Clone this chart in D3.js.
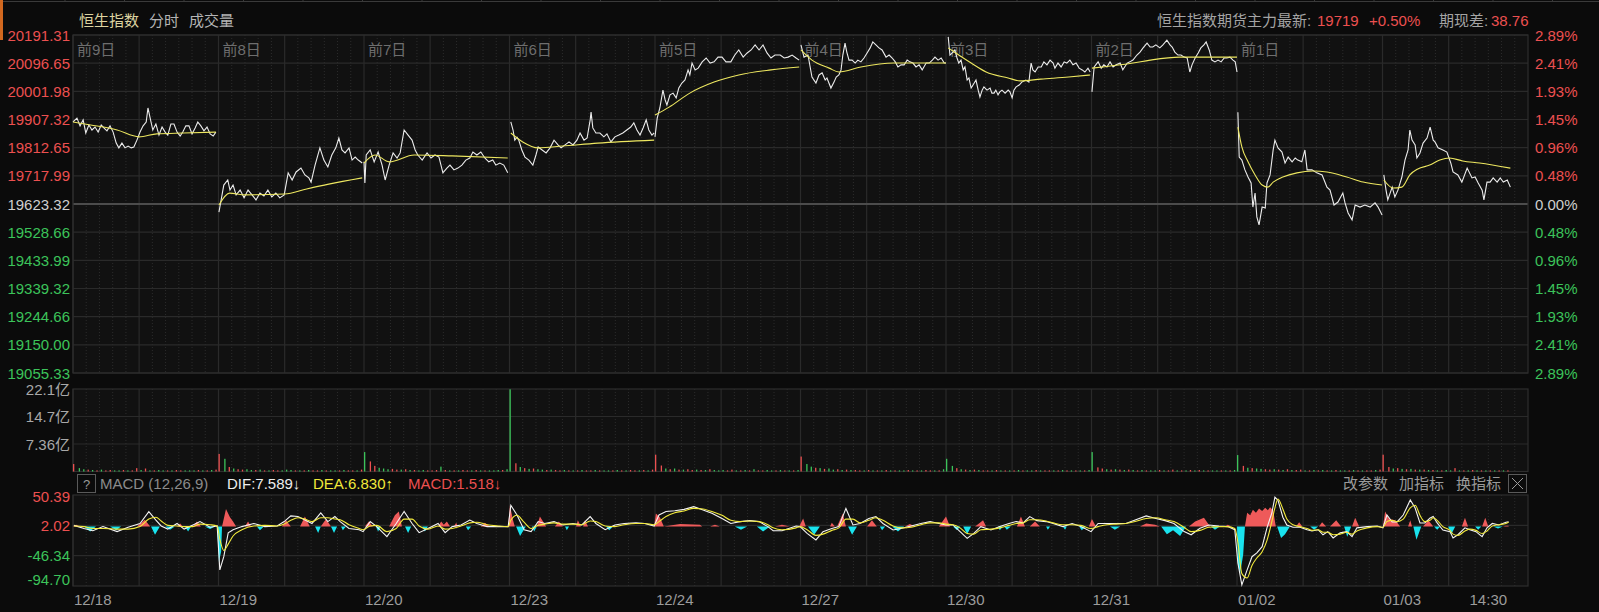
<!DOCTYPE html>
<html><head><meta charset="utf-8">
<script src="https://cdn.jsdelivr.net/npm/d3@7"></script>
<style>
html,body{margin:0;padding:0;background:#0b0b0b;overflow:hidden;}
svg{display:block;}
text{font-family:"Liberation Sans",Arial,"Noto Sans CJK SC",sans-serif;}
</style></head><body>
<svg id="c" width="1599" height="612"></svg>
<script>
// ---------------- DATA ----------------
const dates = ["12/18","12/19","12/20","12/23","12/24","12/27","12/30","12/31","01/02","01/03"];
const dayTags = ["前9日","前8日","前7日","前6日","前5日","前4日","前3日","前2日","前1日",""];
const lastTimeLabel = "14:30";
const prevClose = 19623.32;
const priceTicks = [20191.31,20096.65,20001.98,19907.32,19812.65,19717.99,19623.32,19528.66,19433.99,19339.32,19244.66,19150.00,19055.33];
const pctTicks = ["2.89%","2.41%","1.93%","1.45%","0.96%","0.48%","0.00%","0.48%","0.96%","1.45%","1.93%","2.41%","2.89%"];
const volTicks = [22.08,14.72,7.36];
const volTickLabels = ["22.1亿","14.7亿","7.36亿"];
const macdTicks = [50.39,2.02,-46.34,-94.70];
const headerInfo = {name:"恒生指数", tab1:"分时", tab2:"成交量", futLabel:"恒生指数期货主力最新:", fut:"19719", futChg:"+0.50%", basisLabel:"期现差:", basis:"38.76"};
const macdInfo = {title:"MACD (12,26,9)", dif:"DIF:7.589↓", dea:"DEA:6.830↑", macd:"MACD:1.518↓"};
const toolLabels = ["改参数","加指标","换指标"];

// intraday price [minute of trading day, price]
const price1218 = [[0,19899],[9,19912],[16,19886],[23,19906],[29,19862],[36,19889],[43,19872],[50,19882],[57,19865],[64,19889],[70,19879],[77,19869],[84,19886],[91,19865],[98,19828],[104,19812],[111,19828],[118,19812],[125,19818],[132,19812],[138,19815],[145,19838],[152,19865],[159,19886],[166,19899],[170,19946],[175,19912],[181,19872],[188,19892],[195,19855],[202,19882],[209,19865],[215,19855],[222,19892],[229,19892],[236,19865],[243,19852],[249,19865],[256,19886],[263,19886],[270,19859],[277,19879],[283,19899],[290,19886],[297,19869],[304,19882],[311,19859],[318,19852],[324,19865]];
const price1219 = [[1,19596],[6,19637],[12,19687],[21,19704],[26,19670],[33,19687],[40,19654],[49,19670],[58,19644],[67,19670],[76,19654],[85,19637],[94,19660],[103,19650],[112,19670],[121,19647],[130,19660],[139,19644],[149,19654],[158,19728],[167,19704],[176,19731],[187,19744],[196,19721],[205,19711],[210,19697],[219,19754],[230,19812],[239,19771],[248,19748],[257,19788],[266,19812],[273,19845],[280,19805],[287,19795],[296,19812],[303,19771],[310,19781],[317,19771],[326,19761]];
const price1220 = [[0,19765],[2,19694],[5,19788],[14,19805],[23,19765],[32,19798],[41,19754],[48,19704],[57,19754],[66,19795],[75,19778],[82,19795],[91,19872],[100,19855],[109,19838],[116,19805],[122,19788],[132,19771],[143,19795],[152,19778],[161,19788],[170,19781],[179,19728],[188,19744],[195,19754],[204,19738],[213,19744],[222,19754],[231,19771],[240,19778],[247,19798],[256,19788],[265,19798],[274,19778],[283,19765],[292,19771],[299,19754],[308,19761],[317,19754],[326,19728]];
const price1223 = [[3,19899],[8,19872],[12,19838],[17,19848],[21,19838],[28,19805],[35,19781],[44,19771],[53,19754],[60,19788],[65,19815],[74,19805],[83,19795],[92,19812],[101,19838],[110,19822],[117,19812],[126,19822],[135,19832],[144,19822],[153,19838],[160,19862],[169,19838],[176,19845],[183,19906],[185,19932],[189,19879],[196,19862],[205,19862],[214,19849],[221,19859],[230,19832],[239,19849],[248,19855],[257,19862],[266,19872],[275,19882],[282,19896],[289,19872],[296,19855],[303,19879],[310,19906],[316,19872],[323,19855],[328,19862]];
const price1224 = [[0,19849],[5,19912],[11,19946],[18,20006],[23,19973],[27,19956],[34,19990],[41,19996],[48,19980],[54,20013],[61,20030],[68,20040],[75,20074],[79,20057],[84,20097],[91,20074],[98,20080],[107,20101],[116,20114],[125,20097],[134,20101],[143,20117],[152,20117],[161,20101],[172,20101],[181,20124],[190,20141],[200,20117],[209,20131],[218,20141],[227,20158],[236,20141],[245,20158],[254,20131],[263,20114],[272,20124],[284,20124],[293,20114],[302,20117],[311,20124],[320,20114],[327,20107]];
const price1227 = [[1,20158],[8,20117],[17,20124],[26,20050],[35,20030],[42,20057],[49,20064],[56,20040],[60,20047],[69,20013],[76,20033],[81,20050],[87,20057],[92,20074],[96,20124],[101,20164],[105,20134],[110,20107],[117,20107],[124,20097],[130,20107],[137,20101],[144,20114],[151,20131],[158,20148],[164,20168],[171,20158],[178,20148],[185,20141],[194,20117],[201,20124],[208,20114],[215,20101],[221,20084],[228,20091],[235,20091],[242,20107],[248,20101],[255,20097],[262,20084],[269,20091],[276,20074],[285,20097],[292,20097],[299,20107],[305,20117],[312,20107],[319,20114],[326,20097],[330,20097]];
const price1230 = [[5,20185],[9,20124],[16,20134],[20,20141],[25,20114],[29,20097],[34,20107],[39,20074],[43,20084],[48,20040],[52,20047],[57,20013],[64,20030],[68,20040],[73,20006],[77,19983],[82,20006],[86,20017],[93,20006],[100,20013],[104,19996],[109,19996],[113,20006],[118,19990],[122,20000],[127,20006],[134,19996],[141,20006],[145,20000],[150,19980],[154,20006],[159,20017],[166,20023],[172,20033],[181,20040],[188,20033],[193,20097],[197,20074],[202,20067],[209,20084],[216,20084],[222,20101],[229,20091],[236,20107],[243,20097],[247,20080],[254,20097],[261,20084],[268,20101],[274,20097],[281,20107],[288,20091],[295,20097],[302,20080],[309,20074],[315,20067],[322,20080],[327,20067]];
const price1231 = [[1,20000],[6,20084],[15,20101],[22,20080],[28,20091],[35,20084],[42,20101],[49,20084],[56,20091],[65,20097],[71,20074],[81,20097],[87,20101],[94,20107],[103,20124],[110,20134],[117,20148],[126,20164],[133,20151],[139,20151],[146,20158],[155,20148],[162,20158],[171,20174],[178,20158],[183,20151],[189,20134],[196,20124],[203,20124],[210,20117],[217,20114],[223,20067],[228,20091],[235,20114],[242,20131],[248,20148],[255,20158],[260,20168],[267,20141],[273,20107],[280,20101],[287,20107],[294,20101],[301,20114],[307,20114],[314,20117],[321,20107],[326,20101],[330,20067]];
const price0102 = [[2,19932],[5,19781],[11,19771],[18,19738],[25,19714],[32,19694],[36,19613],[41,19660],[45,19580],[50,19553],[57,19613],[64,19610],[68,19694],[75,19721],[82,19805],[86,19838],[93,19812],[102,19798],[109,19761],[116,19781],[125,19765],[132,19778],[138,19771],[147,19765],[154,19805],[159,19738],[170,19738],[181,19728],[193,19721],[204,19680],[211,19670],[220,19620],[229,19630],[240,19660],[245,19627],[252,19593],[261,19570],[268,19620],[279,19613],[290,19620],[302,19613],[313,19627],[320,19613],[329,19586]];
const price0103 = [[3,19721],[8,19670],[12,19637],[22,19680],[28,19647],[35,19670],[44,19714],[51,19771],[58,19805],[62,19872],[67,19838],[74,19822],[78,19778],[85,19795],[92,19828],[101,19845],[108,19882],[115,19838],[119,19832],[126,19812],[137,19805],[146,19798],[155,19761],[160,19731],[171,19721],[180,19697],[192,19744],[203,19711],[210,19714],[217,19694],[226,19670],[230,19637],[237,19697],[244,19697],[251,19711],[260,19697],[267,19711],[274,19697],[283,19704],[290,19680]];

// intraday average price [minute, price]
const avg1218 = [[0,19899],[40,19889],[100,19872],[150,19849],[190,19859],[250,19862],[324,19865]];
const avg1219 = [[1,19620],[25,19660],[60,19654],[150,19657],[200,19674],[250,19690],[326,19711]];
const avg1220 = [[0,19761],[25,19788],[57,19765],[114,19788],[200,19785],[326,19778]];
const avg1223 = [[3,19862],[30,19832],[65,19812],[120,19818],[200,19828],[328,19838]];
const avg1224 = [[0,19922],[32,19949],[79,19996],[134,20033],[190,20057],[263,20074],[327,20084]];
const avg1227 = [[1,20141],[26,20107],[65,20080],[87,20067],[137,20084],[212,20097],[330,20097]];
const avg1230 = [[5,20148],[29,20124],[57,20097],[91,20067],[141,20047],[168,20037],[215,20043],[278,20050],[327,20057]];
const avg1231 = [[1,20080],[94,20097],[133,20107],[200,20117],[330,20117]];
const avg0102 = [[2,19882],[11,19815],[25,19765],[41,19721],[57,19687],[70,19680],[82,19697],[104,19714],[136,19728],[172,19734],[204,19731],[249,19714],[286,19697],[329,19687]];
const avg0103 = [[3,19704],[24,19677],[44,19680],[62,19721],[80,19741],[107,19754],[130,19771],[152,19778],[182,19768],[220,19761],[290,19744]];

// volume (亿) in 10-minute buckets, and bar colour (r = up, g = down)
const vol1218 = [2.0,0.9,0.6,0.5,0.4,0.3,0.5,0.3,0.4,0.3,0.3,0.4,0.3,0.3,0.9,0.4,0.8,0.3,0.3,0.4,0.3,0.3,0.3,0.4,0.3,0.3,0.3,0.3,0.4,0.3,0.3,0.4,0.5];
const vol1219 = [4.7,3.4,1.2,0.8,0.6,0.5,0.6,0.4,0.4,0.5,0.3,0.3,0.4,0.3,0.3,0.5,0.4,0.3,0.3,0.3,0.4,0.3,0.3,0.4,0.3,0.3,0.3,0.3,0.4,0.3,0.3,0.3,0.5];
const vol1220 = [5.2,2.7,1.5,1.0,0.8,0.6,0.7,0.5,0.5,0.6,0.4,0.4,0.3,0.4,0.3,0.3,0.4,1.3,0.4,0.3,0.3,0.3,0.4,0.3,0.3,0.4,0.3,0.3,0.3,0.3,0.4,0.4,0.6];
const vol1223 = [22.0,2.2,1.2,0.9,0.7,0.8,0.6,0.5,0.4,0.5,0.4,0.3,0.4,0.3,0.3,0.3,0.4,0.3,0.3,0.4,0.3,0.3,0.3,0.3,0.4,0.3,0.3,0.4,0.3,0.3,0.4,0.3,0.5];
const vol1224 = [4.5,1.6,0.8,0.6,0.8,0.5,0.5,0.6,0.4,0.5,0.4,0.4,0.6,0.4,0.3,0.4,0.3,0.5,0.3,0.3,0.4,0.3,0.6,0.3,0.3,0.4,0.3,0.3,0.4,0.3,0.3,0.3,0.4];
const vol1227 = [4.0,2.0,1.3,1.0,0.9,0.7,0.8,0.5,0.6,0.4,0.5,0.4,0.4,0.3,0.3,0.4,0.3,0.3,0.3,0.4,0.3,0.3,0.3,0.3,0.4,0.3,0.3,0.3,0.4,0.3,0.3,0.3,0.6];
const vol1230 = [3.4,1.5,0.9,0.6,0.5,0.4,0.5,0.4,0.3,0.3,0.3,0.4,0.3,0.3,0.3,0.3,0.4,0.3,0.3,0.3,0.4,0.3,0.3,0.3,0.3,0.3,0.4,0.3,0.3,0.3,0.3,0.3,0.4];
const vol1231 = [5.2,1.1,0.8,0.6,0.5,0.6,0.5,0.4,0.5,0.4,0.3,0.4,0.3,0.3,0.3,0.4,0.3,0.3,0.5,0.3,0.3,0.3,0.4,0.3,0.4,0.3,0.3,0.3,0.3,0.3,0.3,0.3,0.4];
const vol0102 = [4.4,1.5,1.0,0.9,0.8,0.7,0.6,0.5,0.6,0.5,0.4,0.6,0.4,0.4,0.5,0.3,0.3,0.4,0.3,0.4,0.3,0.3,0.4,0.3,0.3,0.3,0.4,0.3,0.3,0.3,0.3,0.4,0.5];
const vol0103 = [4.5,1.2,0.8,0.9,0.7,0.6,0.7,0.5,0.5,0.5,0.4,0.4,0.3,0.3,0.4,0.3,0.9,0.3,0.3,0.3,0.4,0.3,0.3,0.3,0.3,0.3,0.3,0.3,0.3];
const volDir = ["rggrgrgrrggrgrrgrgrggrgrrgggrgrgr","rgrgrrggrgrgrrgggrgrgrrgrggrgrrgr","grrgggrrgrgrggrrrgrgrgrrgrgrgggrg","grgrgrggrgrrgrgrgrrgrggrgrgrrgrgr","rrgrgrgrrgrgrgggrrgrgrgrrggrgrgrg","rggrgrggrgrgrrgrgrgrgrggrgrgrrgrg","ggrgrgrgrrgrgrgrgrggrgrrgrgrgrgrg","grrgrgrgrgrgrggrgrrgrgrgrgrggrgrg","grgrggrrgrgrgrrgrgrgrgrggrgrgrrgr","rrgrgrgrgrgrgrggrgrgrgrgrgrgr"];

// MACD lines [minute from first open, DIF, DEA]
const macdLines = [[2,2,1],[25,-3,0],[45,-6.5,-3],[68,0,-3],[100,-8,-4],[125,-1,-4],[152,5,0],[172,24,12],[188,10.5,15],[200,1,9],[215,-4,2],[236,5,1],[252,-4,0],[272,2.6,0],[288,8,4],[311,-1,3],[327,1,1],[333,-69,-20],[342,-48,-38],[352,-10,-28],[363,-5,-15],[383,0,-5],[410,5,1],[435,0,2],[463,1,1],[479,8,4],[494,17,10],[510,16,14],[526,10.5,12],[542,5,8],[562,22,14],[578,8,14],[594,16,12],[606,8,11],[626,-3,3],[649,-5,-3],[658,-8,-5],[674,8,1],[689,0,2],[712,-16,-8],[733,5,-3],[751,24,12],[769,5,12],[785,-9.6,1],[805,-3,-4],[828,5,1],[844,-9.6,-4],[860,0,-3],[880,2.6,1],[900,10.5,6],[916,5,7],[939,0,3],[964,0,1],[987,0,0],[993,34,10],[1007,18.5,18],[1023,-5,7],[1039,-8,-3],[1055,8,2],[1070,5,4],[1091,8,6],[1111,2.6,4],[1134,5,4],[1154,2.6,3],[1173,16,9],[1186,5,8],[1207,-5,1],[1229,2.6,0],[1250,5,3],[1277,6,5],[1297,5,5],[1318,1,3],[1329,18.5,8],[1345,24,16],[1365,25.4,22],[1386,27.5,25],[1408,31.8,29],[1429,26.5,28],[1449,21.2,24],[1472,13,18],[1492,5,10],[1513,8,8],[1535,9.5,9],[1556,8,8],[1576,0,3],[1588,-6.5,-2],[1608,-6.5,-5],[1640,1,-2],[1649,0,0],[1665,-10.7,-5],[1685,-21.3,-14],[1701,-8,-12],[1721,-3,-6],[1737,0,-2],[1753,29,12],[1769,2.6,12],[1785,5,6],[1805,13,10],[1821,16,14],[1837,5,10],[1860,-5.4,1],[1880,-2.7,-2],[1901,1,-1],[1923,5,3],[1944,8,6],[1964,5,6],[1980,2.6,4],[1996,2.6,3],[2012,-8,-2],[2028,-18.7,-11],[2043,-10.7,-12],[2059,0,-5],[2082,-5.4,-4],[2102,0,-2],[2123,5,2],[2139,8,5],[2155,6,6],[2170,16,11],[2186,9.5,11],[2207,8,9],[2223,5,6],[2245,0,3],[2266,5,3],[2286,0,2],[2309,-8,-3],[2325,5,0],[2345,5,3],[2366,5,4],[2388,5,5],[2409,10.5,8],[2434,17,13],[2456,13,14],[2477,9.5,11],[2497,5,8],[2520,-8,-1],[2536,-13,-8],[2556,-2.7,-6],[2576,2.6,-1],[2599,1,0],[2619,0,0],[2635,-5,-3],[2642,-58,-25],[2651,-93,-75],[2663,-69,-82],[2674,-48,-62],[2685,-42,-50],[2697,-32,-40],[2708,-2,-22],[2719,21.7,8],[2726,47,30],[2733,42,44],[2744,15,28],[2753,2.6,12],[2767,-1,3],[2783,-1,0],[2799,-5,-3],[2810,-7,-6],[2824,-5,-5],[2835,-13,-9],[2846,-8,-9],[2858,-18,-13],[2874,-10,-12],[2889,-8,-9],[2901,-16,-12],[2912,-2,-7],[2935,0,-2],[2958,1,0],[2971,-2,-1],[2980,18.5,8],[2992,7.4,10],[3003,7.4,8],[3017,18.5,12],[3033,42.4,30],[3044,29.6,34],[3055,5.8,18],[3066,5.8,8],[3078,13.7,10],[3085,16,14],[3094,5.8,10],[3107,-5.4,0],[3123,-8,-6],[3130,-18,-12],[3141,-13,-14],[3157,-2,-7],[3168,-5,-4],[3182,-8,-6],[3196,-16,-11],[3207,-2,-7],[3219,5,1],[3234,2.6,3],[3250,7,5],[3256,7.6,6.8]];
// MACD histogram [minute from first open, value]
const macdHist = [[0,0],[7,3],[16,0],[25,0],[39,-8],[52,0],[84,0],[98,-6],[109,0],[145,0],[163,11],[175,0],[177,0],[186,-13],[197,0],[209,0],[220,-5],[231,0],[236,0],[243,5],[249,0],[254,0],[261,-8],[268,0],[272,0],[281,8],[290,0],[299,0],[311,-4],[322,0],[327,0],[331,-56],[336,-40],[338,0],[347,28],[356,15],[363,8],[370,0],[390,0],[397,8],[404,0],[417,0],[424,-6],[433,0],[474,0],[483,10],[494,0],[515,0],[526,16],[537,0],[549,0],[556,-10],[562,0],[574,12],[585,0],[592,-10],[599,0],[608,0],[612,-6],[619,0],[662,0],[671,8],[680,0],[687,0],[692,-8],[698,0],[717,0],[730,18],[739,24],[746,0],[753,0],[760,-10],[767,0],[792,0],[798,-8],[805,0],[828,0],[835,8],[841,3],[848,8],[855,0],[864,0],[869,6],[873,0],[891,0],[896,-6],[903,0],[925,0],[934,6],[946,0],[987,0],[991,34],[998,10],[1002,0],[1005,0],[1014,-15],[1027,0],[1041,0],[1046,-8],[1052,0],[1059,16],[1073,0],[1093,0],[1102,8],[1111,0],[1116,0],[1120,-6],[1125,0],[1141,0],[1145,10],[1152,0],[1157,0],[1161,10],[1168,0],[1209,0],[1216,-6],[1225,0],[1318,0],[1322,21],[1331,15],[1340,0],[1377,4],[1422,3],[1427,0],[1445,0],[1456,3],[1467,0],[1501,0],[1515,-5],[1529,0],[1551,0],[1565,-8],[1581,0],[1592,0],[1608,3],[1626,0],[1647,0],[1656,13],[1662,0],[1667,0],[1681,-13],[1694,0],[1717,0],[1721,6],[1728,0],[1733,0],[1746,21],[1753,0],[1758,0],[1767,-13],[1778,0],[1801,0],[1812,10],[1823,0],[1830,0],[1835,-6],[1842,0],[1858,0],[1871,-8],[1885,0],[1887,0],[1898,4],[1910,0],[1964,0],[1980,16],[1989,0],[1996,0],[2005,-6],[2012,0],[2019,0],[2028,-12],[2037,0],[2046,0],[2057,6],[2064,10],[2071,0],[2098,0],[2102,-6],[2109,0],[2112,0],[2118,-5],[2127,0],[2141,0],[2150,16],[2159,0],[2170,0],[2182,8],[2193,0],[2207,0],[2211,-5],[2216,0],[2245,0],[2250,-5],[2254,0],[2282,0],[2288,-6],[2297,0],[2304,0],[2311,12],[2320,0],[2352,0],[2363,-5],[2375,0],[2420,0],[2434,5],[2454,3],[2465,0],[2468,0],[2481,-12],[2495,-6],[2511,-15],[2524,0],[2531,0],[2545,8],[2565,14],[2579,0],[2581,0],[2590,-5],[2601,0],[2613,0],[2619,3],[2627,0],[2640,0],[2642,-60],[2647,-75],[2654,-45],[2658,0],[2663,22],[2670,18],[2676,27],[2683,22],[2690,29],[2697,25],[2704,30],[2710,26],[2715,31],[2722,26],[2728,0],[2731,0],[2740,-18],[2749,-12],[2760,0],[2774,0],[2781,7],[2788,0],[2806,0],[2815,-5],[2824,0],[2826,0],[2833,7],[2842,0],[2851,0],[2865,10],[2876,0],[2883,0],[2890,-16],[2899,0],[2901,0],[2908,14],[2917,0],[2971,0],[2976,24],[2985,12],[2999,10],[3010,0],[3028,0],[3033,10],[3037,0],[3040,0],[3047,-21],[3058,0],[3062,0],[3074,10],[3085,0],[3087,0],[3094,-5],[3101,0],[3119,0],[3126,-12],[3135,0],[3150,0],[3157,14],[3164,0],[3180,0],[3187,-5],[3194,0],[3196,0],[3203,14],[3210,0],[3221,0],[3232,-3],[3243,0],[3250,1.5],[3256,1.5]];

const priceDays = [price1218,price1219,price1220,price1223,price1224,price1227,price1230,price1231,price0102,price0103];
const avgDays = [avg1218,avg1219,avg1220,avg1223,avg1224,avg1227,avg1230,avg1231,avg0102,avg0103];
const volDays = [vol1218,vol1219,vol1220,vol1223,vol1224,vol1227,vol1230,vol1231,vol0102,vol0103];

// ---------------- LAYOUT ----------------
const MIN_PER_DAY = 330, BUCKET = 10;
const L = 73, R = 1528;
const P = {top:35, bot:373}, V = {top:389, bot:471.5}, M = {top:495, bot:586};
const C = {red:"#ec5050", green:"#3cc35a", grey:"#9a9a9a", grid:"#2a2a2a", bg:"#111111", white:"#ececec", yellow:"#ede760", cyan:"#19e3ee"};

const svg = d3.select("#c");
const x = d3.scaleLinear().domain([0, MIN_PER_DAY*dates.length]).range([L, R]);
const yP = d3.scaleLinear().domain([priceTicks[priceTicks.length-1], priceTicks[0]]).range([P.bot, P.top]);
const yV = d3.scaleLinear().domain([0, volTicks[0]]).range([V.bot, V.top]);
const yM = d3.scaleLinear().domain([macdTicks[3], macdTicks[0]]).range([M.bot, M.top]);

// top tab strip
const tabs = svg.append("g");
tabs.append("line").attr("x1",0).attr("x2",1599).attr("y1",1.5).attr("y2",1.5).attr("stroke","#3a3a3a");
d3.range(65, 1580, 59.5).forEach(v=>tabs.append("line").attr("x1",v).attr("x2",v).attr("y1",0).attr("y2",2).attr("stroke","#3a3a3a"));
tabs.append("rect").attr("x",0).attr("y",0).attr("width",3).attr("height",40).attr("fill","#d2681f");

// panels
[P,V,M].forEach(p=>{
  svg.append("rect").attr("x",L).attr("y",p.top).attr("width",R-L).attr("height",p.bot-p.top).attr("fill",C.bg);
});
function vgrid(p){
  const g = svg.append("g");
  dates.forEach((d,i)=>{
    [0,150].forEach(m=>g.append("line").attr("x1",x(i*MIN_PER_DAY+m)).attr("x2",x(i*MIN_PER_DAY+m)).attr("y1",p.top).attr("y2",p.bot).attr("stroke",C.grid).attr("stroke-width",1.2));
    [30,60,90,120,180,210,240,270,300].forEach(m=>g.append("line").attr("x1",x(i*MIN_PER_DAY+m)).attr("x2",x(i*MIN_PER_DAY+m)).attr("y1",p.top).attr("y2",p.bot).attr("stroke","#2c2c2c").attr("stroke-dasharray","1,2"));
  });
}
[P,V,M].forEach(vgrid);
// horizontal grid
priceTicks.forEach((t,i)=>svg.append("line").attr("x1",L).attr("x2",R).attr("y1",yP(t)).attr("y2",yP(t))
  .attr("stroke", t===prevClose ? "#4c4c4c" : C.grid).attr("stroke-width", t===prevClose?2:1.2));
volTicks.slice(1).forEach(t=>svg.append("line").attr("x1",L).attr("x2",R).attr("y1",yV(t)).attr("y2",yV(t)).attr("stroke",C.grid).attr("stroke-width",1.2));
macdTicks.slice(1,3).forEach(t=>svg.append("line").attr("x1",L).attr("x2",R).attr("y1",yM(t)).attr("y2",yM(t)).attr("stroke",C.grid).attr("stroke-width",1.2));
[P,V,M].forEach(p=>svg.append("rect").attr("x",L).attr("y",p.top).attr("width",R-L).attr("height",p.bot-p.top).attr("fill","none").attr("stroke","#2e2e2e").attr("stroke-width",1.2));

// header
const hdr = svg.append("g").attr("font-size",15);
hdr.append("text").attr("x",79).attr("y",26).attr("fill","#ddd3a0").text(headerInfo.name);
hdr.append("text").attr("x",149).attr("y",26).attr("fill","#b4b4b4").text(headerInfo.tab1);
hdr.append("text").attr("x",189).attr("y",26).attr("fill","#b4b4b4").text(headerInfo.tab2);
hdr.append("text").attr("x",1157).attr("y",26).attr("fill","#a4a4a4").text(headerInfo.futLabel);
hdr.append("text").attr("x",1317).attr("y",26).attr("fill",C.red).text(headerInfo.fut);
hdr.append("text").attr("x",1369).attr("y",26).attr("fill",C.red).text(headerInfo.futChg);
hdr.append("text").attr("x",1439).attr("y",26).attr("fill","#a4a4a4").text(headerInfo.basisLabel);
hdr.append("text").attr("x",1491).attr("y",26).attr("fill",C.red).text(headerInfo.basis);

// day tags
dates.forEach((d,i)=>{ if(dayTags[i]) svg.append("text").attr("x",x(i*MIN_PER_DAY)+4).attr("y",55).attr("font-size",15).attr("fill","#6e6e6e").text(dayTags[i]); });

// price axis labels
priceTicks.forEach((t,i)=>{
  const col = t>prevClose ? C.red : (t<prevClose ? C.green : "#cfcfcf");
  svg.append("text").attr("x",70).attr("y",yP(t)+5.5).attr("text-anchor","end").attr("font-size",15).attr("fill",col).text(t.toFixed(2));
  svg.append("text").attr("x",1535).attr("y",yP(t)+5.5).attr("font-size",15).attr("fill",col).text(pctTicks[i]);
});
volTicks.forEach((t,i)=>svg.append("text").attr("x",70).attr("y",yV(t)+5.5).attr("text-anchor","end").attr("font-size",15).attr("fill","#a8a8a8").text(volTickLabels[i]));
macdTicks.forEach((t,i)=>{
  const yy = i===3 ? yM(t)-7 : (i===0 ? yM(t)+1 : yM(t));
  svg.append("text").attr("x",70).attr("y",yy+5.5).attr("text-anchor","end").attr("font-size",15).attr("fill", t>0?C.red:C.green).text(t.toFixed(2));
});

// volume bars
volDays.forEach((arr,d)=>{
  arr.forEach((v,i)=>{
    const t = d*MIN_PER_DAY + i*BUCKET + (i===0?0:3);
    svg.append("rect").attr("x",x(t)).attr("y",yV(v)).attr("width",1.3).attr("height",yV(0)-yV(v))
      .attr("fill", (volDir[d][i]||"g")==="r" ? C.red : C.green);
  });
});

// price and average lines
priceDays.forEach((arr,d)=>{
  svg.append("path").attr("d", d3.line().x(p=>x(d*MIN_PER_DAY+p[0])).y(p=>yP(p[1]))(arr))
    .attr("fill","none").attr("stroke",C.white).attr("stroke-width",1.1);
  svg.append("path").attr("d", d3.line().curve(d3.curveMonotoneX).x(p=>x(d*MIN_PER_DAY+p[0])).y(p=>yP(p[1]))(avgDays[d]))
    .attr("fill","none").attr("stroke",C.yellow).attr("stroke-width",1.1);
});

// MACD header row
const mh = svg.append("g").attr("font-size",15);
mh.append("rect").attr("x",77.5).attr("y",474.5).attr("width",18).attr("height",18).attr("fill","none").attr("stroke","#5a5a5a");
mh.append("text").attr("x",86.5).attr("y",489).attr("text-anchor","middle").attr("fill","#9a9a9a").attr("font-size",13).text("?");
mh.append("text").attr("x",100).attr("y",489).attr("fill","#8c8c8c").text(macdInfo.title);
mh.append("text").attr("x",227).attr("y",489).attr("fill","#ededed").text(macdInfo.dif);
mh.append("text").attr("x",313).attr("y",489).attr("fill","#f0e83a").text(macdInfo.dea);
mh.append("text").attr("x",408).attr("y",489).attr("fill",C.red).text(macdInfo.macd);
[1343,1399,1456].forEach((xx,i)=>mh.append("text").attr("x",xx).attr("y",489).attr("fill","#9a9a9a").text(toolLabels[i]));
mh.append("rect").attr("x",1508.5).attr("y",474.5).attr("width",18).attr("height",18).attr("fill","none").attr("stroke","#5a5a5a");
mh.append("path").attr("d","M1512,478L1523,489M1523,478L1512,489").attr("stroke","#9a9a9a").attr("stroke-width",1);

// MACD histogram
svg.append("path").attr("d", d3.area().x(d=>x(d[0])).y0(yM(0)).y1(d=>yM(Math.max(0,d[1])))(macdHist)).attr("fill","#ee5a5a");
svg.append("path").attr("d", d3.area().x(d=>x(d[0])).y0(yM(0)).y1(d=>yM(Math.min(0,d[1])))(macdHist)).attr("fill",C.cyan);
svg.append("path").attr("d", d3.line().x(d=>x(d[0])).y(d=>yM(d[1]))(macdLines)).attr("fill","none").attr("stroke","#f4f4f4").attr("stroke-width",1.1);
svg.append("path").attr("d", d3.line().curve(d3.curveMonotoneX).x(d=>x(d[0])).y(d=>yM(d[2]))(macdLines)).attr("fill","none").attr("stroke","#f2ea3c").attr("stroke-width",1.1);

// date labels
dates.forEach((d,i)=>svg.append("text").attr("x",x(i*MIN_PER_DAY)+1).attr("y",605).attr("font-size",15).attr("fill","#9c9c9c").text(d));
svg.append("text").attr("x",x(9*MIN_PER_DAY+240)).attr("y",605).attr("text-anchor","middle").attr("font-size",15).attr("fill","#9c9c9c").text(lastTimeLabel);
</script>
</body></html>
